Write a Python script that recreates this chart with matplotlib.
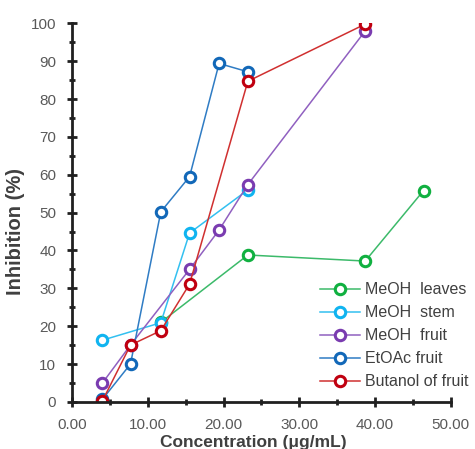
import numpy as np
from matplotlib import pyplot as plt
from matplotlib.ticker import MultipleLocator, FormatStrFormatter

plt.rcParams['font.family'] = ['Liberation Sans', 'DejaVu Sans']

# data
leaves_x = [11.7, 23.2, 38.7, 46.4]
leaves_y = [21.0, 38.8, 37.2, 55.8]
stem_x = [4.0, 11.7, 15.5, 23.2]
stem_y = [16.3, 20.9, 44.6, 56.0]
mfruit_x = [4.0, 7.7, 15.5, 19.4, 23.2, 38.7]
mfruit_y = [5.0, 15.0, 35.0, 45.4, 57.4, 98.0]
etoac_x = [4.0, 7.7, 11.7, 15.5, 19.4, 23.2]
etoac_y = [0.7, 10.0, 50.2, 59.5, 89.4, 87.2]
buta_x = [4.0, 7.7, 11.7, 15.5, 23.2, 38.7]
buta_y = [0.3, 15.0, 18.8, 31.1, 84.7, 99.8]

series = [
    ("MeOH  leaves", leaves_x, leaves_y, "#3cba6a", "#10b040"),
    ("MeOH  stem", stem_x, stem_y, "#33c0f0", "#10b4f0"),
    ("MeOH  fruit", mfruit_x, mfruit_y, "#9060c0", "#7a3cb0"),
    ("EtOAc fruit", etoac_x, etoac_y, "#2f7cc4", "#1268b8"),
    ("Butanol of fruit", buta_x, buta_y, "#d03030", "#c00010"),
]

fig = plt.figure(figsize=(4.75, 4.49), dpi=100)
ax = fig.add_axes([0.152, 0.105, 0.797, 0.843])

for name, xs, ys, lc, mc in series:
    ax.plot(xs, ys, color=lc, lw=1.1, marker='o', ms=7.5, mfc='white',
            mec=mc, mew=2.2, label=name)

ax.set_xlim(0, 50)
ax.set_ylim(0, 100)
ax.xaxis.set_major_locator(MultipleLocator(10))
ax.xaxis.set_minor_locator(MultipleLocator(5))
ax.yaxis.set_major_locator(MultipleLocator(10))
ax.yaxis.set_minor_locator(MultipleLocator(5))
ax.xaxis.set_major_formatter(FormatStrFormatter('%.2f'))
for s in ['top', 'right']:
    ax.spines[s].set_visible(False)
for s in ['left', 'bottom']:
    ax.spines[s].set_linewidth(2)
    ax.spines[s].set_color('#202020')
    ax.spines[s].set_clip_on(False)
ax.tick_params(which='both', direction='inout', color='#202020', width=2,
               labelsize=11, labelcolor='#595959')
ax.tick_params(which='major', length=7)
ax.tick_params(which='minor', length=5)
ax.tick_params(axis='x', pad=8)
ax.tick_params(axis='y', pad=8)

ax.set_xlabel('Concentration (\u03bcg/mL)', fontsize=12.5, fontweight='bold',
              color='#404040', labelpad=0)
ax.xaxis.set_label_coords(0.478, -0.087)
ax.set_ylabel('Inhibition (%)', fontsize=14.5, fontweight='bold',
              color='#404040')
ax.yaxis.set_label_coords(-0.125, 0.45)

leg = ax.legend(loc='lower right', bbox_to_anchor=(1.085, -0.005), frameon=False,
                fontsize=11.5, handlelength=2.5, handletextpad=0.3,
                labelspacing=0.5, labelcolor='#404040')

fig.savefig('out.png', dpi=100)
